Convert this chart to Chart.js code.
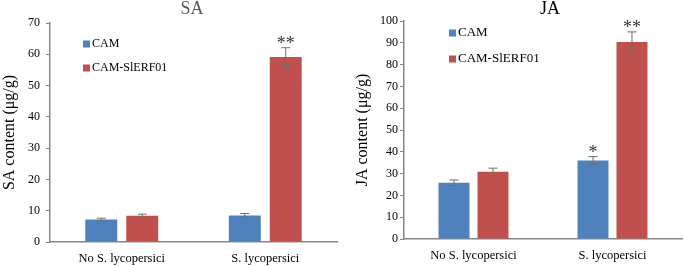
<!DOCTYPE html>
<html>
<head>
<meta charset="utf-8">
<script src="https://cdn.jsdelivr.net/npm/chart.js@4/dist/chart.umd.min.js"></script>
<style>
  body { margin: 0; background: #fff; }
  #wrap { position: relative; width: 685px; height: 266px; }
  canvas { position: absolute; top: 0; }
</style>
</head>
<body>
<div id="wrap">
  <canvas id="sa-chart" width="342" height="266" style="left:0"></canvas>
  <canvas id="ja-chart" width="342" height="266" style="left:343px"></canvas>
</div>
<script>
// data
const categories = ['No S. lycopersici', 'S. lycopersici'];
const seriesNames = ['CAM', 'CAM-SlERF01'];

const saCam = [7.2, 8.5];
const saCamErr = [0.4, 0.6];
const saErf = [8.4, 59.1];
const saErfErr = [0.5, 3.0];
const saCamMarks = ['', ''];
const saErfMarks = ['', '**'];

const jaCam = [25.8, 36.0];
const jaCamErr = [1.3, 1.8];
const jaErf = [30.8, 90.4];
const jaErfErr = [1.7, 4.6];
const jaCamMarks = ['', '*'];
const jaErfMarks = ['', '**'];

const saTicks = { max: 70, step: 10 };
const jaTicks = { max: 100, step: 10 };

const BLUE = '#4F81BD';
const RED = '#C0504D';
const AXIS = '#868686';
const SERIF = '"Liberation Serif", "Times New Roman", serif';

// error bars, significance marks, inner legend and title
const extrasPlugin = {
  id: 'extras',
  afterDatasetsDraw(chart, args, opts) {
    const ctx = chart.ctx;
    const y = chart.scales.y;
    ctx.save();
    chart.data.datasets.forEach((ds, i) => {
      const meta = chart.getDatasetMeta(i);
      meta.data.forEach((bar, j) => {
        const v = ds.data[j];
        const e = ds.errors[j];
        const top = y.getPixelForValue(v + e);
        const bot = y.getPixelForValue(v - e);
        ctx.strokeStyle = '#6e6e6e';
        ctx.lineWidth = 1;
        ctx.beginPath();
        ctx.moveTo(bar.x, top); ctx.lineTo(bar.x, bot);
        ctx.moveTo(bar.x - 4.5, top); ctx.lineTo(bar.x + 4.5, top);
        ctx.moveTo(bar.x - 4.5, bot); ctx.lineTo(bar.x + 4.5, bot);
        ctx.stroke();
        if (ds.marks[j]) {
          ctx.fillStyle = '#333';
          ctx.font = '18px ' + SERIF;
          ctx.textAlign = 'center';
          ctx.textBaseline = 'alphabetic';
          ctx.fillText(ds.marks[j], bar.x, top + 1);
        }
      });
    });

    // legend inside the plot
    ctx.font = opts.legendSize + 'px ' + SERIF;
    ctx.textAlign = 'left';
    ctx.textBaseline = 'middle';
    chart.data.datasets.forEach((ds, i) => {
      const ly = opts.legendY[i];
      ctx.fillStyle = ds.backgroundColor;
      ctx.fillRect(opts.legendX, ly - 3.5, 7, 7);
      ctx.fillStyle = '#000';
      ctx.fillText(ds.label, opts.legendX + 9, ly);
    });

    // title
    ctx.font = '18px ' + SERIF;
    ctx.textAlign = 'center';
    ctx.fillStyle = opts.titleColor;
    ctx.fillText(opts.title, opts.titleX, 9);
    ctx.restore();
  }
};

function makeChart(id, cam, camErr, camMarks, erf, erfErr, erfMarks, ticks, look) {
  return new Chart(document.getElementById(id), {
    type: 'bar',
    data: {
      labels: categories,
      datasets: [
        { label: seriesNames[0], data: cam, errors: camErr, marks: camMarks, backgroundColor: BLUE },
        { label: seriesNames[1], data: erf, errors: erfErr, marks: erfMarks, backgroundColor: RED }
      ]
    },
    options: {
      responsive: false,
      animation: false,
      devicePixelRatio: 1,
      categoryPercentage: look.catPct,
      barPercentage: look.barPct,
      layout: { padding: { top: look.top, right: look.right, left: 0, bottom: 0 } },
      plugins: {
        legend: { display: false },
        tooltip: { enabled: false },
        extras: look.extras
      },
      scales: {
        x: {
          grid: { display: false, drawTicks: false },
          border: { display: true, color: AXIS, width: 1.5 },
          ticks: { color: '#000', font: { family: SERIF, size: 12.5 }, padding: look.xPad },
          afterFit(s) { s.height = look.xHeight; }
        },
        y: {
          min: 0,
          max: ticks.max,
          grid: { drawOnChartArea: false, drawTicks: true, tickLength: 4, color: AXIS },
          border: { display: true, color: AXIS, width: 1.5 },
          ticks: { stepSize: ticks.step, color: '#000', font: { family: SERIF, size: 12 }, padding: look.tickPad },
          title: {
            display: true,
            text: look.yTitle,
            color: '#000',
            font: { family: SERIF, size: 16 },
            padding: { top: look.titlePad, bottom: 0 }
          },
          afterFit(s) { s.width = look.yWidth; }
        }
      }
    },
    plugins: [extrasPlugin]
  });
}

makeChart('sa-chart', saCam, saCamErr, saCamMarks, saErf, saErfErr, saErfMarks, saTicks, {
  catPct: 0.571, barPct: 0.78, top: 23, right: 5, xHeight: 24, yWidth: 50, xPad: 9,
  tickPad: 6, titlePad: 0, yTitle: 'SA content (μg/g)',
  extras: { title: 'SA', titleX: 192, titleColor: '#595959', legendX: 83, legendY: [44, 68], legendSize: 12 }
});

makeChart('ja-chart', jaCam, jaCamErr, jaCamMarks, jaErf, jaErfErr, jaErfMarks, jaTicks, {
  catPct: 0.561, barPct: 0.795, top: 21, right: 3, xHeight: 27, yWidth: 61, xPad: 9,
  tickPad: 2, titlePad: 10, yTitle: 'JA content (μg/g)',
  extras: { title: 'JA', titleX: 207, titleColor: '#000', legendX: 106, legendY: [33, 59], legendSize: 13 }
});
</script>
</body>
</html>
